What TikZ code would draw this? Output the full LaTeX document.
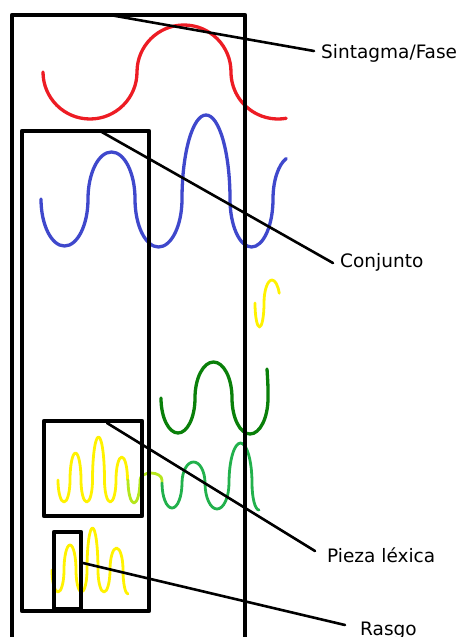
\documentclass[tikz,border=0pt]{standalone}
\usepackage{fontspec}
\setmainfont{DejaVu Sans}
\begin{document}
\begin{tikzpicture}[x=1pt,y=-1pt,
  frame/.style={draw=black, line width=4.5pt, line join=round},
  leader/.style={draw=black, line width=2.6pt, line cap=round},
  wave/.style={line width=3.3pt, line cap=round, line join=round},
  thinwave/.style={line width=2.8pt, line cap=round, line join=round},
  dn/.style={start angle=180, end angle=360},
  up/.style={start angle=180, end angle=0},
  tag/.style={anchor=base west, inner sep=0pt, font=\fontsize{18.5}{20}\selectfont}]
\definecolor{pred}{HTML}{ED1C24}
\definecolor{pblue}{HTML}{3F48CC}
\definecolor{pyellow}{HTML}{FFF200}
\definecolor{pgreen}{HTML}{22B14C}
\definecolor{dgreen}{HTML}{0A800A}
\definecolor{plime}{HTML}{B5E61D}
\useasboundingbox (0,0) rectangle (464,637);
\fill[white] (0,0) rectangle (464,637);

% red wave (phrase level)
\draw[wave, pred] (43,72) arc[dn, radius=47pt]
                          arc[up, radius=47pt]
                          arc[start angle=180, end angle=280, radius=47pt];

% blue wave (set level)
\draw[wave, pblue] (41,199)
  arc[dn, x radius=23.5pt, y radius=47pt]
  arc[up, x radius=23.5pt, y radius=47pt]
  arc[dn, x radius=23.5pt, y radius=48pt]
  arc[up, x radius=24pt,   y radius=84pt]
  arc[dn, x radius=21.5pt, y radius=48pt]
  arc[start angle=180, end angle=110, x radius=20pt, y radius=43pt];

% small yellow wave on the right
\draw[thinwave, pyellow] (255,303)
  arc[dn, x radius=4.5pt, y radius=24pt]
  arc[start angle=180, end angle=25, x radius=8pt, y radius=23pt];

% dark green wave
\draw[wave, dgreen] (161,398)
  arc[dn, x radius=17pt,   y radius=35pt]
  arc[up, x radius=18.5pt, y radius=36pt]
  arc[dn, x radius=18pt,   y radius=36pt]
  .. controls (268,385) .. (267,369);

% yellow wave inside the lexical-piece box, fading into green
\draw[thinwave, pyellow] (58,480)
  arc[dn, x radius=6pt,    y radius=22pt]
  arc[up, x radius=5.5pt,  y radius=27pt]
  arc[dn, x radius=5.75pt, y radius=22pt]
  arc[up, x radius=6pt,    y radius=43pt]
  arc[dn, x radius=5.75pt, y radius=22pt]
  arc[up, x radius=5.75pt, y radius=23pt];
\draw[thinwave, plime] (128,480)
  arc[dn, x radius=6pt, y radius=23pt]
  arc[start angle=180, end angle=0, x radius=11pt, y radius=7pt] -- (162,483);
\draw[thinwave, pgreen] (162,483)
  arc[dn, x radius=10pt,   y radius=25pt]
  arc[up, x radius=11.5pt, y radius=21pt]
  arc[dn, x radius=12pt,   y radius=26pt]
  arc[up, x radius=11.5pt, y radius=40pt]
  arc[start angle=180, end angle=270, x radius=7pt, y radius=27pt];

% yellow wave around the feature box
\draw[thinwave, pyellow] (52,570)
  arc[dn, x radius=6pt,   y radius=22pt]
  arc[up, x radius=6pt,   y radius=25pt]
  arc[dn, x radius=5.5pt, y radius=22pt]
  arc[up, x radius=5.5pt, y radius=42pt]
  arc[dn, x radius=6pt,   y radius=22pt]
  arc[up, x radius=6.5pt, y radius=22pt]
  arc[start angle=180, end angle=270, x radius=5pt, y radius=24pt];

% nested frames
\draw[frame] (12,15) rectangle (245,660);
\draw[frame] (22,131) rectangle (149,611);
\draw[frame] (44,421) rectangle (142,516);
\draw[frame] (54,532) rectangle (81,609);

% anchor points of the leaders on the frames
\coordinate (sfA) at (110,15);
\coordinate (cjA) at (100,131);
\coordinate (plA) at (107,423);
\coordinate (rgA) at (83,563);
\coordinate (sfB) at (314,51);
\coordinate (cjB) at (333,263);
\coordinate (plB) at (315,551);
\coordinate (rgB) at (345,625);

% labels
\node[tag] (sf) at (321,58) {Sintagma/Fase};
\node[tag] (cj) at (340,267) {Conjunto};
\node[tag] (pl) at (327,562) {Pieza léxica};
\node[tag] (rg) at (360,635) {Rasgo};

% leaders
\draw[leader] (sfA) -- (sfB);
\draw[leader] (cjA) -- (cjB);
\draw[leader] (plA) -- (plB);
\draw[leader] (rgA) -- (rgB);
\end{tikzpicture}
\end{document}
